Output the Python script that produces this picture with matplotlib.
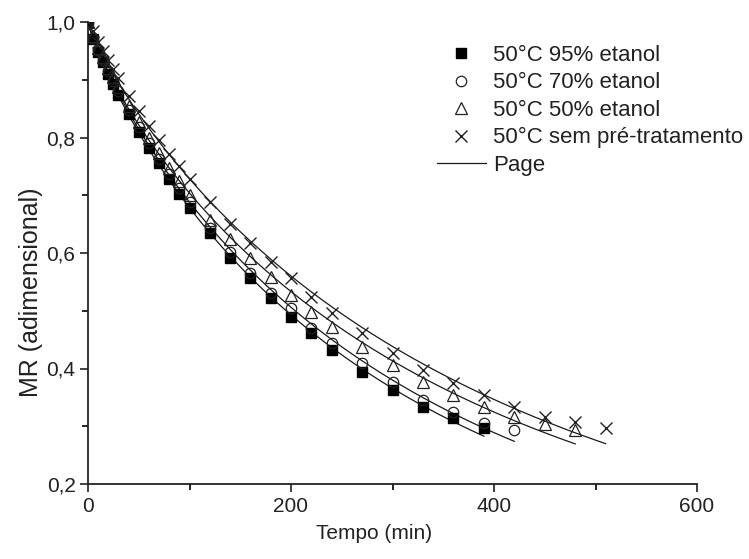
import numpy as np
import matplotlib
matplotlib.use("Agg")
import matplotlib.pyplot as plt
from matplotlib.ticker import MultipleLocator, FuncFormatter

plt.rcParams['font.family'] = ['Liberation Sans', 'DejaVu Sans']

# ---- data ----
t_common = [0, 5, 10, 15, 20, 25, 30, 40, 50, 60, 70, 80, 90, 100,
            120, 140, 160, 180, 200, 220, 240, 270, 300, 330, 360, 390,
            420, 450, 480, 510]

t_95 = t_common[:26]
mr_95 = [1.0, 0.970, 0.948, 0.930, 0.910, 0.892, 0.874, 0.840, 0.810, 0.782,
         0.755, 0.728, 0.703, 0.678, 0.634, 0.591, 0.556, 0.522, 0.490, 0.461,
         0.432, 0.394, 0.363, 0.333, 0.314, 0.297]

t_70 = t_common[:27]
mr_70 = [1.0, 0.972, 0.951, 0.935, 0.915, 0.898, 0.880, 0.847, 0.818, 0.790,
         0.763, 0.737, 0.712, 0.688, 0.643, 0.602, 0.565, 0.530, 0.504, 0.470,
         0.444, 0.409, 0.377, 0.345, 0.325, 0.306, 0.293]

t_50 = t_common[:29]
mr_50 = [1.0, 0.975, 0.955, 0.940, 0.920, 0.905, 0.888, 0.855, 0.827, 0.800,
         0.773, 0.748, 0.724, 0.700, 0.657, 0.625, 0.591, 0.559, 0.527, 0.498,
         0.472, 0.438, 0.406, 0.377, 0.354, 0.333, 0.316, 0.304, 0.293]

t_sem = t_common[:30]
mr_sem = [1.0, 0.985, 0.965, 0.950, 0.935, 0.918, 0.903, 0.872, 0.846, 0.820,
          0.795, 0.772, 0.750, 0.728, 0.689, 0.651, 0.617, 0.585, 0.556, 0.524,
          0.496, 0.461, 0.426, 0.397, 0.375, 0.354, 0.333, 0.316, 0.307, 0.297]

labels = ['50°C 95% etanol', '50°C 70% etanol', '50°C 50% etanol',
          '50°C sem pré-tratamento']
model_label = 'Page'

x_ticks = [0, 200, 400, 600]
y_ticks = [0.2, 0.4, 0.6, 0.8, 1.0]


def fit_page(t, mr):
    """Least-squares fit of the Page model MR = exp(-k t^n)."""
    t = np.asarray(t, float)
    mr = np.asarray(mr, float)
    m = (t > 0) & (mr < 1)
    A = np.vstack([np.ones(m.sum()), np.log(t[m])]).T
    c, n = np.linalg.lstsq(A, np.log(-np.log(mr[m])), rcond=None)[0]
    p = np.array([c, n])
    tt = np.where(t > 0, t, 1e-9)
    for _ in range(50):
        k = np.exp(p[0]); n = p[1]
        f = np.exp(-k * tt ** n)
        r = mr - f
        d0 = -f * k * tt ** n
        d1 = -f * k * tt ** n * np.log(tt)
        J = np.vstack([d0, d1]).T
        step = np.linalg.lstsq(J, r, rcond=None)[0]
        p = p + step
        if np.max(np.abs(step)) < 1e-10:
            break
    return np.exp(p[0]), p[1]


fig = plt.figure(figsize=(7.49, 5.59), dpi=100)
ax = fig.add_axes([88 / 749, 1 - 484 / 559, (697 - 88) / 749, (484 - 22) / 559])

series = [
    (t_95, mr_95, dict(marker='s', mfc='black', mec='black', ms=6.5)),
    (t_70, mr_70, dict(marker='o', mfc='none', mec='#222222', ms=7.5, mew=0.9)),
    (t_50, mr_50, dict(marker='^', mfc='none', mec='#222222', ms=8.5, mew=0.9)),
    (t_sem, mr_sem, dict(marker='x', mfc='none', mec='#222222', ms=8, mew=1.0)),
]

handles = []
for (t, mr, style), lab in zip(series, labels):
    h, = ax.plot(t, mr, ls='none', label=lab, zorder=3, **style)
    handles.append(h)

line_handle = None
for t, mr, _ in series:
    k, n = fit_page(t, mr)
    tt = np.linspace(0, max(t), 300)
    ln, = ax.plot(tt, np.exp(-k * tt ** n), color='#1a1a1a', lw=0.9, zorder=2)
    line_handle = ln

ax.set_xlim(0, 600)
ax.set_ylim(0.2, 1.0)
ax.set_xticks(x_ticks)
ax.set_yticks(y_ticks)
ax.xaxis.set_minor_locator(MultipleLocator(100))
ax.yaxis.set_minor_locator(MultipleLocator(0.1))
ax.yaxis.set_major_formatter(FuncFormatter(lambda v, p: f'{v:.1f}'.replace('.', ',')))
ax.tick_params(which='major', direction='out', length=6, width=1.2, labelsize=15,
               colors='#222222', pad=3)
ax.tick_params(which='minor', direction='out', length=4, width=1.2)
for s in ['top', 'right']:
    ax.spines[s].set_visible(False)
for s in ['left', 'bottom']:
    ax.spines[s].set_linewidth(1.3)
    ax.spines[s].set_color('#222222')

ax.set_xlabel('Tempo (min)', fontsize=15, color='#222222')
ax.set_ylabel('MR (adimensional)', fontsize=18, color='#222222')
ax.xaxis.set_label_coords((374 - 88) / 609, -(524 - 484) / 462)
ax.yaxis.set_label_coords(-(88 - 31) / 609, (484 - 292) / 462)
ax.xaxis.label.set_va('top')
ax.yaxis.label.set_va('center')

leg = ax.legend(handles + [line_handle], labels + [model_label],
                loc='upper left', bbox_to_anchor=(437 / 749, 1 - 45 / 559),
                bbox_transform=fig.transFigure, frameon=False, fontsize=16,
                handlelength=2.2, handletextpad=0.33, labelspacing=0.29,
                borderpad=0, borderaxespad=0)
for txt in leg.get_texts():
    txt.set_color('#222222')

fig.savefig('out.png', dpi=100)
